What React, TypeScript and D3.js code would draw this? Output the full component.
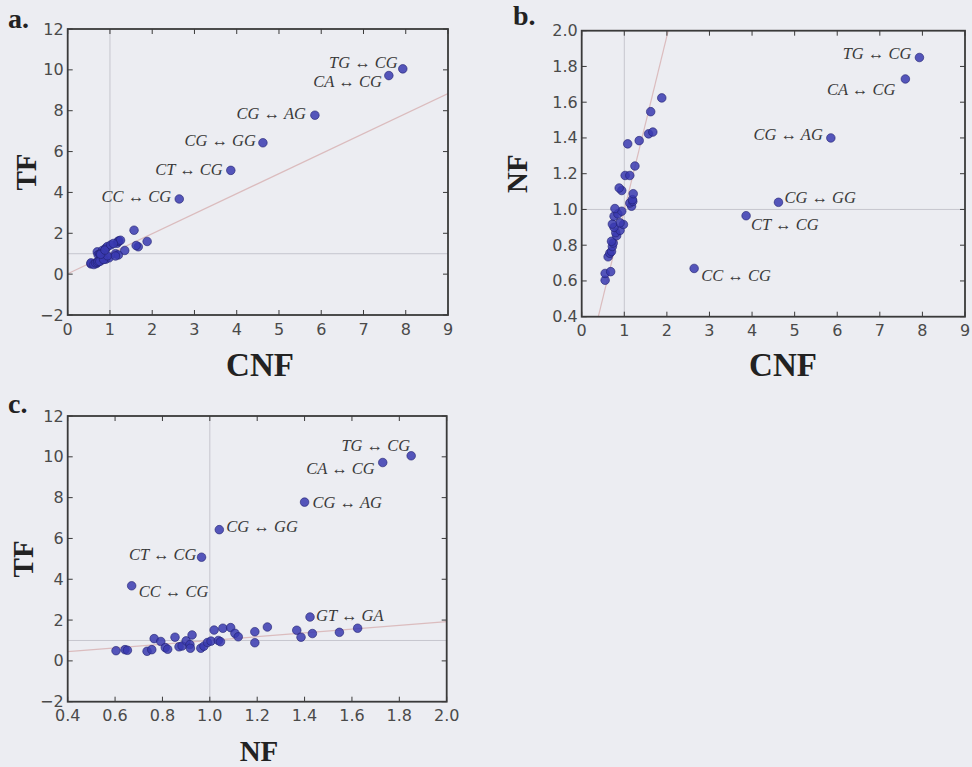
import React from "react";
import * as d3 from "d3";

// ---------- data ----------
const mutation = [
  "TG ↔ CG", "CA ↔ CG", "CG ↔ AG", "CG ↔ GG", "CT ↔ CG", "CC ↔ CG", "GT ↔ GA",
  "", "", "", "", "", "", "", "", "", "", "", "", "", "", "", "", "", "",
  "", "", "", "", "", "", "", "", "", "", "", "", "", "",
];
const cnf = [
  7.93, 7.6, 5.85, 4.62, 3.86, 2.64, 1.57,
  0.55, 0.55, 0.68, 0.62, 0.66, 0.70, 0.72, 0.74, 0.70, 0.82, 0.80, 0.90,
  0.76, 0.98, 0.90, 0.72, 0.76, 0.85, 0.94, 0.78, 1.17, 1.13, 1.20, 1.19,
  1.21, 0.94, 0.88, 1.02, 1.13, 1.25, 1.08, 1.35, 1.67, 1.62, 1.88,
];
const nf = [
  1.85, 1.73, 1.40, 1.04, 0.965, 0.67, 1.423,
  0.604, 0.642, 0.652, 0.735, 0.755, 0.765, 0.793, 0.812, 0.822, 0.853, 0.870, 0.883,
  0.900, 0.916, 0.925, 0.918, 0.962, 0.975, 0.990, 1.005, 1.018, 1.036, 1.045, 1.055,
  1.088, 1.106, 1.120, 1.190, 1.190, 1.243, 1.367, 1.385, 1.433, 1.547, 1.624,
];
const tf = [
  10.05, 9.72, 7.78, 6.43, 5.08, 3.68, 2.15,
  0.50, 0.55, 0.52, 0.47, 0.55, 1.09, 0.95, 0.65, 0.57, 1.16, 0.69, 0.73,
  0.98, 0.80, 1.27, 0.62, 0.62, 0.72, 0.90, 0.97, 1.51, 1.00, 0.94, 1.60,
  1.63, 1.35, 1.18, 1.43, 0.89, 1.66, 1.50, 1.16, 1.34, 1.40, 1.60,
];

const cnfTicks = [0, 1, 2, 3, 4, 5, 6, 7, 8, 9];
const cnfTickLabels = ["0", "1", "2", "3", "4", "5", "6", "7", "8", "9"];
const tfTicks = [-2, 0, 2, 4, 6, 8, 10, 12];
const tfTickLabels = ["−2", "0", "2", "4", "6", "8", "10", "12"];
const nfTicks = [0.4, 0.6, 0.8, 1.0, 1.2, 1.4, 1.6, 1.8, 2.0];
const nfTickLabels = ["0.4", "0.6", "0.8", "1.0", "1.2", "1.4", "1.6", "1.8", "2.0"];

// fit lines: [slope, intercept]
const fitA = [0.98, 0.02];
const fitB = [0.975, 0.02];
const fitC = [0.919, 0.083];

// ---------- label placement (styles) ----------
type Place = { anchor: "start" | "end"; dx: number; dy: number };
const placeA: Record<string, Place> = {
  "TG ↔ CG": { anchor: "end", dx: -5, dy: -6 },
  "CA ↔ CG": { anchor: "end", dx: -7, dy: 6 },
  "CG ↔ AG": { anchor: "end", dx: -9, dy: -2 },
  "CG ↔ GG": { anchor: "end", dx: -7, dy: -2 },
  "CT ↔ CG": { anchor: "end", dx: -8, dy: -1 },
  "CC ↔ CG": { anchor: "end", dx: -8, dy: -2 },
};
const placeB: Record<string, Place> = {
  "TG ↔ CG": { anchor: "end", dx: -8, dy: -4 },
  "CA ↔ CG": { anchor: "end", dx: -10, dy: 11 },
  "CG ↔ AG": { anchor: "end", dx: -8, dy: -3 },
  "CG ↔ GG": { anchor: "start", dx: 6, dy: -5 },
  "CT ↔ CG": { anchor: "start", dx: 5, dy: 9 },
  "CC ↔ CG": { anchor: "start", dx: 7, dy: 7 },
};
const placeC: Record<string, Place> = {
  "TG ↔ CG": { anchor: "end", dx: -1, dy: -10 },
  "CA ↔ CG": { anchor: "end", dx: -8, dy: 6 },
  "CG ↔ AG": { anchor: "start", dx: 8, dy: 0 },
  "CG ↔ GG": { anchor: "start", dx: 7, dy: -3 },
  "CT ↔ CG": { anchor: "end", dx: -5, dy: -3 },
  "CC ↔ CG": { anchor: "start", dx: 7, dy: 6 },
  "GT ↔ GA": { anchor: "start", dx: 6, dy: -2 },
};

const BG = "#ecedf2";
const TICK_COLOR = "#4a4a4a";

type PanelProps = {
  id: string;
  letter: string;
  letterX: number;
  letterY: number;
  box: { l: number; r: number; t: number; b: number };
  xs: number[];
  ys: number[];
  xDomain: [number, number];
  yDomain: [number, number];
  xTicks: number[];
  xTickLabels: string[];
  yTicks: number[];
  yTickLabels: string[];
  xLabel: string;
  yLabel: string;
  xLabelX: number;
  xLabelY: number;
  xLabelSize: number;
  yLabelX: number;
  yLabelSize: number;
  fit: number[];
  refX: number;
  refY: number;
  place: Record<string, Place>;
};

function Panel(p: PanelProps) {
  const { box } = p;
  const x = d3.scaleLinear().domain(p.xDomain).range([box.l, box.r]);
  const y = d3.scaleLinear().domain(p.yDomain).range([box.b, box.t]);
  const fitLine = d3
    .line<number>()
    .x((v) => x(v))
    .y((v) => y(p.fit[0] * v + p.fit[1]));
  const fx = [p.xDomain[0], p.xDomain[1]];
  const clipId = "clip-" + p.id;
  const tickLen = 5;
  const frame = "#3a3a3a";
  return (
    <g>
      <defs>
        <clipPath id={clipId}>
          <rect x={box.l} y={box.t} width={box.r - box.l} height={box.b - box.t} />
        </clipPath>
      </defs>
      <g clipPath={`url(#${clipId})`}>
        <line x1={x(p.refX)} x2={x(p.refX)} y1={box.t} y2={box.b} stroke="#c6c6ce" strokeWidth={1} />
        <line x1={box.l} x2={box.r} y1={y(p.refY)} y2={y(p.refY)} stroke="#c6c6ce" strokeWidth={1} />
        <path d={fitLine(fx) || ""} stroke="#dbbcbe" strokeWidth={1.2} fill="none" />
        {p.xs.map((v, i) => (
          <circle
            key={i}
            cx={x(v)}
            cy={y(p.ys[i])}
            r={4.3}
            fill="#3a3ab0"
            fillOpacity={0.85}
            stroke="#20206e"
            strokeWidth={0.6}
          />
        ))}
      </g>
      {p.xs.map((v, i) => {
        const m = mutation[i];
        const pl = p.place[m];
        if (!m || !pl) return null;
        return (
          <text
            key={"l" + i}
            x={x(v) + pl.dx}
            y={y(p.ys[i]) + pl.dy}
            textAnchor={pl.anchor}
            dominantBaseline="central"
            fontFamily="'Liberation Serif', 'DejaVu Serif', serif"
            fontStyle="italic"
            fontSize={16.5}
            fill="#3a3a3a"
          >
            {m}
          </text>
        );
      })}
      {/* ticks */}
      {p.xTicks.map((t, i) => (
        <g key={"xt" + i}>
          <line x1={x(t)} x2={x(t)} y1={box.b} y2={box.b - tickLen} stroke={frame} strokeWidth={1} />
          <line x1={x(t)} x2={x(t)} y1={box.t} y2={box.t + tickLen} stroke={frame} strokeWidth={1} />
          <text
            x={x(t)}
            y={box.b + 14}
            textAnchor="middle"
            dominantBaseline="central"
            fontFamily="'DejaVu Sans', sans-serif"
            fontSize={16}
            fill={TICK_COLOR}
          >
            {p.xTickLabels[i]}
          </text>
        </g>
      ))}
      {p.yTicks.map((t, i) => (
        <g key={"yt" + i}>
          <line x1={box.l} x2={box.l + tickLen} y1={y(t)} y2={y(t)} stroke={frame} strokeWidth={1} />
          <line x1={box.r} x2={box.r - tickLen} y1={y(t)} y2={y(t)} stroke={frame} strokeWidth={1} />
          <text
            x={box.l - 4}
            y={y(t)}
            textAnchor="end"
            dominantBaseline="central"
            fontFamily="'DejaVu Sans', sans-serif"
            fontSize={16}
            fill={TICK_COLOR}
          >
            {p.yTickLabels[i]}
          </text>
        </g>
      ))}
      <rect
        x={box.l}
        y={box.t}
        width={box.r - box.l}
        height={box.b - box.t}
        fill="none"
        stroke={frame}
        strokeWidth={1.8}
      />
      <text
        x={p.xLabelX}
        y={p.xLabelY}
        textAnchor="middle"
        dominantBaseline="central"
        fontFamily="'Liberation Serif', serif"
        fontWeight="bold"
        fontSize={p.xLabelSize}
        fill="#222"
      >
        {p.xLabel}
      </text>
      <text
        transform={`translate(${p.yLabelX},${(box.t + box.b) / 2}) rotate(-90)`}
        textAnchor="middle"
        dominantBaseline="central"
        fontFamily="'Liberation Serif', serif"
        fontWeight="bold"
        fontSize={p.yLabelSize}
        fill="#222"
      >
        {p.yLabel}
      </text>
      <text
        x={p.letterX}
        y={p.letterY}
        fontFamily="'Liberation Serif', serif"
        fontWeight="bold"
        fontSize={28}
        fill="#222"
      >
        {p.letter}
      </text>
    </g>
  );
}

export default function App() {
  return (
    <div style={{ position: "fixed", left: 0, top: 0, width: 972, height: 767, background: BG }}>
      <svg width={972} height={767} style={{ display: "block" }}>
        <rect x={0} y={0} width={972} height={767} fill={BG} />
        <Panel
          id="a"
          letter="a."
          letterX={8}
          letterY={28}
          box={{ l: 67.7, r: 448, t: 29, b: 315 }}
          xs={cnf}
          ys={tf}
          xDomain={[0, 9]}
          yDomain={[-2, 12]}
          xTicks={cnfTicks}
          xTickLabels={cnfTickLabels}
          yTicks={tfTicks}
          yTickLabels={tfTickLabels}
          xLabel="CNF"
          yLabel="TF"
          xLabelX={260}
          xLabelY={365}
          xLabelSize={33}
          yLabelX={26}
          yLabelSize={29}
          fit={fitA}
          refX={1}
          refY={1}
          place={placeA}
        />
        <Panel
          id="b"
          letter="b."
          letterX={513}
          letterY={25}
          box={{ l: 581.7, r: 965, t: 30.7, b: 316.7 }}
          xs={cnf}
          ys={nf}
          xDomain={[0, 9]}
          yDomain={[0.4, 2.0]}
          xTicks={cnfTicks}
          xTickLabels={cnfTickLabels}
          yTicks={nfTicks}
          yTickLabels={nfTickLabels}
          xLabel="CNF"
          yLabel="NF"
          xLabelX={783}
          xLabelY={365}
          xLabelSize={33}
          yLabelX={517}
          yLabelSize={29}
          fit={fitB}
          refX={1}
          refY={1}
          place={placeB}
        />
        <Panel
          id="c"
          letter="c."
          letterX={8}
          letterY={413}
          box={{ l: 67.7, r: 446.7, t: 416, b: 701.7 }}
          xs={nf}
          ys={tf}
          xDomain={[0.4, 2.0]}
          yDomain={[-2, 12]}
          xTicks={nfTicks}
          xTickLabels={nfTickLabels}
          yTicks={tfTicks}
          yTickLabels={tfTickLabels}
          xLabel="NF"
          yLabel="TF"
          xLabelX={259}
          xLabelY={751}
          xLabelSize={29}
          yLabelX={23}
          yLabelSize={29}
          fit={fitC}
          refX={1}
          refY={1}
          place={placeC}
        />
      </svg>
    </div>
  );
}
